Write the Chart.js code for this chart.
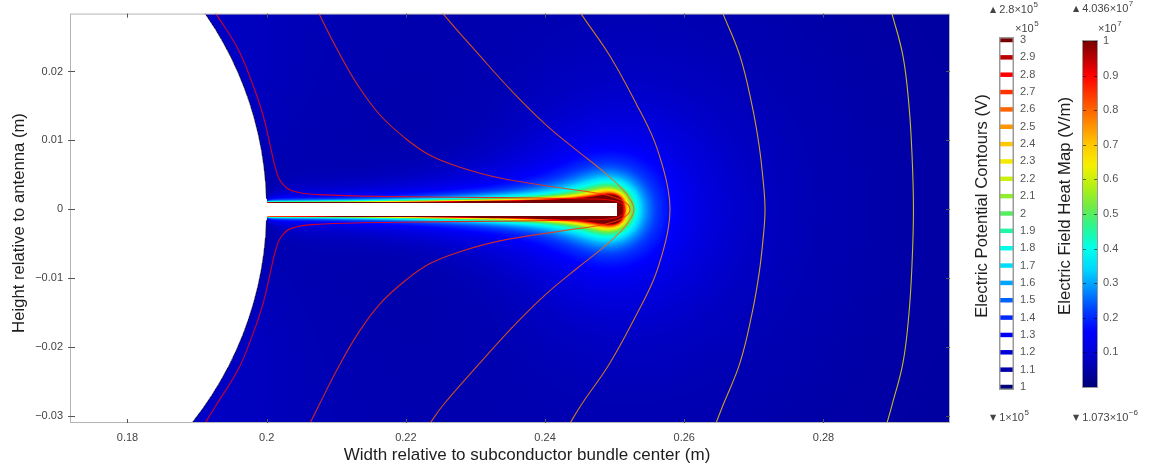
<!DOCTYPE html>
<html>
<head>
<meta charset="utf-8">
<title>Electric field around an antenna strand</title>
<script src="https://cdn.jsdelivr.net/npm/chart.js@4.4.1/dist/chart.umd.min.js"></script>
<style>
  html, body { margin: 0; padding: 0; background: #fff; }
  body { position: relative; width: 1153px; height: 469px; overflow: hidden; }
  canvas { position: absolute; top: 0; }
</style>
</head>
<body>
<canvas id="fieldPlot" width="960" height="469" style="left:0"></canvas>
<canvas id="potentialBar" width="90" height="469" style="left:960px"></canvas>
<canvas id="fieldBar" width="103" height="469" style="left:1050px"></canvas>
<script>
const FONT = '"Liberation Sans", Arial, sans-serif';
Chart.defaults.font.family = FONT;
Chart.defaults.color = '#444';
Chart.defaults.animation = false;

// ---------- axes (m) ----------
const xTicks = [0.18, 0.2, 0.22, 0.24, 0.26, 0.28];
const yTicks = [-0.03, -0.02, -0.01, 0, 0.01, 0.02];
const xRange = [0.17174, 0.29818];
const yRange = [-0.03096, 0.02839];

// ---------- potential legend (x1e5 V) ----------
const potentialLevels = [1.0, 1.1, 1.2, 1.3, 1.4, 1.5, 1.6, 1.7, 1.8, 1.9, 2.0,
                         2.1, 2.2, 2.3, 2.4, 2.5, 2.6, 2.7, 2.8, 2.9, 3.0];
const potentialRange = [0.9885, 3.0115];

// ---------- field legend (x1e7 V/m) ----------
const fieldTicks = [0.1, 0.2, 0.3, 0.4, 0.5, 0.6, 0.7, 0.8, 0.9, 1.0];
const fieldRange = [0, 1];

// ---------- equipotentials drawn in the plot (x1e5 V) ----------
const contourLevels = [2.8, 2.7, 2.6, 2.5, 2.4, 2.3];
// upper half of each line (y >= 0), from the top edge down to the axis
const c28x = [0.19114, 0.19272, 0.19588, 0.19789, 0.19947, 0.20047, 0.20119, 0.20205, 0.20364, 0.20766, 0.21915, 0.23352, 0.24358, 0.24861, 0.25076, 0.25148];
const c28y = [0.031, 0.02839, 0.02325, 0.0184, 0.01369, 0.00942, 0.00628, 0.00399, 0.00271, 0.00214, 0.00185, 0.00171, 0.00157, 0.00143, 0.001, 0];
const c27x = [0.20622, 0.20751, 0.2101, 0.21312, 0.21628, 0.21997, 0.22346, 0.22777, 0.23352, 0.24214, 0.24861, 0.25134, 0.2522];
const c27y = [0.031, 0.02839, 0.02325, 0.01797, 0.01369, 0.01027, 0.00785, 0.00613, 0.00456, 0.00314, 0.00214, 0.00114, 0];
const c26x = [0.22346, 0.22533, 0.23065, 0.23539, 0.24013, 0.24473, 0.24846, 0.25105, 0.25234, 0.25277];
const c26y = [0.031, 0.02839, 0.02225, 0.01698, 0.01227, 0.00842, 0.00542, 0.003, 0.00128, 0];
const c25x = [0.24358, 0.24516, 0.24932, 0.2532, 0.2555, 0.2568, 0.25766, 0.25795];
const c25y = [0.031, 0.02839, 0.02225, 0.01512, 0.01041, 0.00656, 0.0030, 0];
const c24x = [0.26455, 0.26556, 0.268, 0.26973, 0.27073, 0.27131, 0.2716];
const c24y = [0.031, 0.02839, 0.02225, 0.01512, 0.00942, 0.00442, 0];
const c23x = [0.28912, 0.28984, 0.29142, 0.29228, 0.29272, 0.29293];
const c23y = [0.031, 0.02839, 0.02225, 0.01512, 0.00799, 0];
const contourHalves = [[c28x, c28y], [c27x, c27y], [c26x, c26y], [c25x, c25y], [c24x, c24y], [c23x, c23y]];

// ---------- conductor geometry (m) ----------
const subconductor = { cx: 0.15, cy: 0, r: 0.05 };
const strand = { x0: 0.2, x1: 0.2503, half: 0.001 };

// ---------- charge model used to shade |E| (x1e7 V/m) ----------
const subCharge = 0.0044;                        // subconductor line charge
const tipCharge = 0.0006, tipX = 0.2495;         // far-reaching charge at the strand tip
const strandDensity = { base: 1.0e-4, rise: 3.6e-4, tip: 5.0e-4, tipLength: 0.004 };
const STRAND_SEGMENTS = 100;

// ---------- rainbow colour table ----------
const rainbowPos = [0, 0.10, 0.16, 0.22, 0.28, 0.34, 0.40, 0.46, 0.52, 0.58, 0.64, 0.70, 0.76, 0.84, 0.90, 1.0];
const rainbowRGB = [[0,0,120],[0,0,215],[0,0,255],[0,60,255],[0,140,255],[0,215,255],[0,255,235],
                    [40,245,150],[110,235,70],[180,240,20],[245,240,0],[255,200,0],[255,140,0],
                    [255,60,0],[255,0,0],[120,0,0]];

function rainbow(v) {
  v = Math.max(0, Math.min(1, v));
  for (let i = 1; i < rainbowPos.length; i++) {
    if (v <= rainbowPos[i]) {
      const t = (v - rainbowPos[i - 1]) / (rainbowPos[i] - rainbowPos[i - 1]);
      const a = rainbowRGB[i - 1], b = rainbowRGB[i];
      return [a[0] + (b[0] - a[0]) * t, a[1] + (b[1] - a[1]) * t, a[2] + (b[2] - a[2]) * t];
    }
  }
  return rainbowRGB[rainbowRGB.length - 1];
}
const rgbStr = (c, a = 1) => `rgba(${Math.round(c[0])},${Math.round(c[1])},${Math.round(c[2])},${a})`;
const levelColor = lv => rainbow((lv - potentialLevels[0]) / (potentialLevels[potentialLevels.length - 1] - potentialLevels[0]));

// lookup table for fast shading
const LUT_N = 1024;
const lut = new Uint8ClampedArray(LUT_N * 3);
for (let i = 0; i < LUT_N; i++) {
  const c = rainbow(i / (LUT_N - 1));
  lut[i * 3] = c[0]; lut[i * 3 + 1] = c[1]; lut[i * 3 + 2] = c[2];
}

// strand surface charge: two rows of uniformly charged segments just inside its faces
const segEdges = new Float64Array(STRAND_SEGMENTS + 1);
const segLambda = new Float64Array(STRAND_SEGMENTS);
const chargeRows = [strand.half * 0.9, -strand.half * 0.9];
(function () {
  const len = strand.x1 - strand.x0, ds = len / STRAND_SEGMENTS;
  for (let k = 0; k <= STRAND_SEGMENTS; k++) segEdges[k] = strand.x0 + k * ds;
  for (let k = 0; k < STRAND_SEGMENTS; k++) {
    const t = (k + 0.5) / STRAND_SEGMENTS;
    const lam = strandDensity.base + strandDensity.rise * t * t +
                strandDensity.tip * Math.exp(-(1 - t) * len / strandDensity.tipLength);
    segLambda[k] = 0.5 * lam;
  }
})();

function fieldAt(x, y) {
  let dx = x - subconductor.cx, dy = y - subconductor.cy;
  let r2 = dx * dx + dy * dy;
  let ex = subCharge * dx / r2, ey = subCharge * dy / r2;
  dx = x - tipX; r2 = dx * dx + y * y;
  ex += tipCharge * dx / r2; ey += tipCharge * y / r2;
  for (let row = 0; row < chargeRows.length; row++) {
    const h = y - chargeRows[row];
    const d2 = Math.max(h * h, 1e-14);
    let u = segEdges[0] - x;
    let ri = 1 / Math.sqrt(u * u + d2), ur = u * ri;
    let sx = 0, sy = 0;
    for (let k = 0; k < STRAND_SEGMENTS; k++) {
      const u2 = segEdges[k + 1] - x;
      const ri2 = 1 / Math.sqrt(u2 * u2 + d2), ur2 = u2 * ri2;
      sx += segLambda[k] * (ri2 - ri);
      sy += segLambda[k] * (ur2 - ur);
      ri = ri2; ur = ur2;
    }
    ex += sx; ey += sy * h / d2;
  }
  return Math.sqrt(ex * ex + ey * ey);
}

function insideConductor(x, y) {
  const dx = x - subconductor.cx, dy = y - subconductor.cy;
  if (dx * dx + dy * dy <= subconductor.r * subconductor.r) return true;
  return x >= strand.x0 && x <= strand.x1 && Math.abs(y) <= strand.half;
}

// ---------- text helpers ----------
function sciLabel(ctx, x, y, arrow, base, exp) {
  ctx.save();
  ctx.fillStyle = '#444';
  ctx.textBaseline = 'middle';
  ctx.textAlign = 'left';
  let cx = x;
  if (arrow) {
    ctx.font = '8px "DejaVu Sans", sans-serif';
    ctx.fillText(arrow, cx, y);
    cx += ctx.measureText(arrow).width + 3;
  }
  ctx.font = `11px ${FONT}`;
  ctx.fillText(base, cx, y);
  cx += ctx.measureText(base).width;
  ctx.font = `8px ${FONT}`;
  ctx.fillText(exp, cx + 0.5, y - 5);
  ctx.restore();
}

function verticalTitle(ctx, text, cx, cy, size) {
  ctx.save();
  ctx.translate(cx, cy);
  ctx.rotate(-Math.PI / 2);
  ctx.font = `${size}px ${FONT}`;
  ctx.fillStyle = '#1e1e1e';
  ctx.textAlign = 'center';
  ctx.textBaseline = 'middle';
  ctx.fillText(text, 0, 0);
  ctx.restore();
}

const fmtX = v => String(+v.toFixed(2));
const fmtY = v => (v === 0 ? '0' : (v < 0 ? '\u2212' + String(+(-v).toFixed(2)) : String(+v.toFixed(2))));

// ---------- main plot ----------
let fieldImage = null;
const fieldMapPlugin = {
  id: 'fieldMap',
  beforeDatasetsDraw(chart) {
    const { ctx, chartArea: a } = chart;
    const xs = chart.scales.x, ys = chart.scales.y;
    const left = Math.round(a.left), top = Math.round(a.top);
    const w = Math.round(a.right) - left, h = Math.round(a.bottom) - top;
    if (!fieldImage) {
      fieldImage = ctx.createImageData(w, h);
      const d = fieldImage.data;
      for (let j = 0; j < h; j++) {
        const y = ys.getValueForPixel(top + j + 0.5);
        for (let i = 0; i < w; i++) {
          const x = xs.getValueForPixel(left + i + 0.5);
          const p = (j * w + i) * 4;
          if (insideConductor(x, y)) {
            d[p] = d[p + 1] = d[p + 2] = 255;
          } else {
            const v = (fieldAt(x, y) - fieldRange[0]) / (fieldRange[1] - fieldRange[0]);
            const k = Math.max(0, Math.min(LUT_N - 1, Math.round(v * (LUT_N - 1)))) * 3;
            d[p] = lut[k]; d[p + 1] = lut[k + 1]; d[p + 2] = lut[k + 2];
          }
          d[p + 3] = 255;
        }
      }
    }
    ctx.putImageData(fieldImage, left, top);

    // subconductor outline
    ctx.save();
    ctx.beginPath();
    ctx.rect(a.left, a.top, a.right - a.left, a.bottom - a.top);
    ctx.clip();
    const cx = xs.getPixelForValue(subconductor.cx), cy = ys.getPixelForValue(subconductor.cy);
    const rx = xs.getPixelForValue(subconductor.cx + subconductor.r) - cx;
    const ry = cy - ys.getPixelForValue(subconductor.cy + subconductor.r);
    ctx.beginPath();
    ctx.ellipse(cx, cy, rx, ry, 0, 0.03, 2 * Math.PI - 0.03);
    ctx.strokeStyle = 'rgba(25,25,45,0.75)';
    ctx.lineWidth = 1;
    ctx.stroke();
    ctx.restore();
  }
};

const plotFramePlugin = {
  id: 'plotFrame',
  afterDraw(chart) {
    const { ctx, chartArea: a } = chart;
    const xs = chart.scales.x, ys = chart.scales.y;
    ctx.save();
    ctx.strokeStyle = '#b4b4b4';
    ctx.lineWidth = 1;
    ctx.strokeRect(a.left + 0.5, a.top + 0.5, a.right - a.left - 1, a.bottom - a.top - 1);
    ctx.strokeStyle = '#555';
    ctx.beginPath();
    xTicks.forEach(v => {
      const px = Math.round(xs.getPixelForValue(v)) + 0.5;
      ctx.moveTo(px, a.top); ctx.lineTo(px, a.top + 4);
      ctx.moveTo(px, a.bottom); ctx.lineTo(px, a.bottom - 4);
    });
    yTicks.forEach(v => {
      const py = Math.round(ys.getPixelForValue(v)) + 0.5;
      ctx.moveTo(a.left - 2, py); ctx.lineTo(a.left + 5, py);
      ctx.moveTo(a.right, py); ctx.lineTo(a.right - 4, py);
    });
    ctx.stroke();

    ctx.fillStyle = '#1e1e1e';
    ctx.font = `17px ${FONT}`;
    ctx.textAlign = 'center';
    ctx.textBaseline = 'middle';
    ctx.fillText('Width relative to subconductor bundle center (m)', 527, 455);
    ctx.restore();
    verticalTitle(ctx, 'Height relative to antenna (m)', 19, 223, 16.7);
  }
};

const contourDatasets = contourLevels.map((lv, i) => {
  const [hx, hy] = contourHalves[i];
  const pts = [];
  for (let k = 0; k < hx.length; k++) pts.push({ x: hx[k], y: -hy[k] });
  for (let k = hx.length - 2; k >= 0; k--) pts.push({ x: hx[k], y: hy[k] });
  return {
    label: String(lv),
    data: pts,
    showLine: true,
    pointRadius: 0,
    borderWidth: 1.1,
    borderColor: rgbStr(levelColor(lv), 0.8),
    tension: 0.4,
    clip: 0
  };
});

new Chart(document.getElementById('fieldPlot'), {
  type: 'scatter',
  data: { datasets: contourDatasets },
  options: {
    responsive: false,
    animation: false,
    events: [],
    layout: { padding: { top: 7, right: 10, left: 0, bottom: 0 } },
    plugins: { legend: { display: false }, tooltip: { enabled: false } },
    scales: {
      x: {
        type: 'linear', min: xRange[0], max: xRange[1],
        grid: { display: false, drawTicks: false }, border: { display: false },
        afterBuildTicks: s => { s.ticks = xTicks.map(v => ({ value: v })); },
        afterFit: s => { s.height = 46; },
        ticks: { padding: 8, maxRotation: 0, autoSkip: false, font: { size: 11 }, color: '#444', callback: v => fmtX(v) }
      },
      y: {
        type: 'linear', min: yRange[0], max: yRange[1],
        grid: { display: false, drawTicks: false }, border: { display: false },
        afterBuildTicks: s => { s.ticks = yTicks.map(v => ({ value: v })); },
        afterFit: s => { s.width = 70; },
        ticks: { padding: 7, autoSkip: false, font: { size: 11 }, color: '#444', callback: v => fmtY(v) }
      }
    }
  },
  plugins: [fieldMapPlugin, plotFramePlugin]
});

// ---------- potential contour legend ----------
const potentialFramePlugin = {
  id: 'potentialFrame',
  beforeDatasetsDraw(chart) {
    const { ctx, chartArea: a } = chart;
    ctx.save();
    ctx.fillStyle = '#fff';
    ctx.fillRect(a.left, a.top, a.right - a.left, a.bottom - a.top);
    ctx.restore();
  },
  afterDraw(chart) {
    const { ctx, chartArea: a } = chart;
    ctx.save();
    ctx.strokeStyle = '#9a9a9a';
    ctx.lineWidth = 1.5;
    ctx.strokeRect(a.left - 0.25, a.top - 0.25, a.right - a.left + 0.5, a.bottom - a.top + 0.5);
    ctx.restore();
    sciLabel(ctx, 30, 10, '\u25B2', '2.8\u00D710', '5');
    sciLabel(ctx, 55, 29, '', '\u00D710', '5');
    sciLabel(ctx, 30, 418, '\u25BC', '1\u00D710', '5');
    verticalTitle(ctx, 'Electric Potential Contours (V)', 22, 206, 16.7);
  }
};

new Chart(document.getElementById('potentialBar'), {
  type: 'bar',
  data: {
    labels: [''],
    datasets: potentialLevels.map(lv => ({
      label: String(lv),
      data: [[lv - 0.011, lv + 0.011]],
      backgroundColor: rgbStr(levelColor(lv)),
      grouped: false,
      barPercentage: 1,
      categoryPercentage: 1,
      borderWidth: 0
    }))
  },
  options: {
    responsive: false,
    animation: false,
    events: [],
    layout: { padding: { left: 40, top: 38, bottom: 80, right: 0 } },
    plugins: { legend: { display: false }, tooltip: { enabled: false } },
    scales: {
      x: { display: false },
      y: {
        position: 'right', min: potentialRange[0], max: potentialRange[1],
        grid: { display: false, drawTicks: false }, border: { display: false },
        afterBuildTicks: s => { s.ticks = potentialLevels.map(v => ({ value: v })); },
        afterFit: s => { s.width = 37; },
        ticks: { padding: 7, autoSkip: false, font: { size: 11 }, color: '#555', callback: v => String(+v.toFixed(1)) }
      }
    }
  },
  plugins: [potentialFramePlugin]
});

// ---------- field colour legend ----------
const fieldFramePlugin = {
  id: 'fieldFrame',
  afterDraw(chart) {
    const { ctx, chartArea: a } = chart;
    const ys = chart.scales.y;
    ctx.save();
    ctx.strokeStyle = 'rgba(0,0,0,0.55)';
    ctx.lineWidth = 1;
    ctx.beginPath();
    fieldTicks.forEach(v => {
      const py = Math.round(ys.getPixelForValue(v)) + 0.5;
      ctx.moveTo(a.left, py); ctx.lineTo(a.left + 3, py);
      ctx.moveTo(a.right, py); ctx.lineTo(a.right - 3, py);
    });
    ctx.stroke();
    ctx.strokeStyle = '#9a9a9a';
    ctx.lineWidth = 1;
    ctx.strokeRect(a.left - 0.5, a.top - 0.5, a.right - a.left + 1, a.bottom - a.top + 1);
    ctx.restore();
    sciLabel(ctx, 23, 9, '\u25B2', '4.036\u00D710', '7');
    sciLabel(ctx, 48, 29, '', '\u00D710', '7');
    sciLabel(ctx, 23, 418, '\u25BC', '1.073\u00D710', '\u22126');
    verticalTitle(ctx, 'Electric Field Heat Map (V/m)', 15, 206, 16.7);
  }
};

function fieldGradient(c) {
  const chart = c.chart, a = chart.chartArea;
  if (!a || !isFinite(a.top) || !isFinite(a.bottom) || a.bottom <= a.top) return rgbStr(rainbowRGB[2]);
  const ys = chart.scales.y;
  const y0 = ys.getPixelForValue(fieldRange[0]), y1 = ys.getPixelForValue(fieldRange[1]);
  if (!isFinite(y0) || !isFinite(y1)) return rgbStr(rainbowRGB[2]);
  const g = chart.ctx.createLinearGradient(0, y0, 0, y1);
  rainbowPos.forEach((p, i) => g.addColorStop(p, rgbStr(rainbowRGB[i])));
  return g;
}

const fieldBarChart = new Chart(document.getElementById('fieldBar'), {
  type: 'bar',
  data: {
    labels: [''],
    datasets: [{
      label: '|E|',
      data: [[fieldRange[0], fieldRange[1]]],
      backgroundColor: fieldGradient,
      barPercentage: 1,
      categoryPercentage: 1,
      borderWidth: 0
    }]
  },
  options: {
    responsive: false,
    animation: false,
    events: [],
    layout: { padding: { left: 33, top: 41, bottom: 82, right: 0 } },
    plugins: { legend: { display: false }, tooltip: { enabled: false } },
    scales: {
      x: { display: false },
      y: {
        position: 'right', min: fieldRange[0], max: fieldRange[1],
        grid: { display: false, drawTicks: false }, border: { display: false },
        afterBuildTicks: s => { s.ticks = fieldTicks.map(v => ({ value: v })); },
        afterFit: s => { s.width = 56; },
        ticks: { padding: 6, autoSkip: false, font: { size: 11 }, color: '#555', callback: v => String(+v.toFixed(1)) }
      }
    }
  },
  plugins: [fieldFramePlugin]
});
fieldBarChart.update();
</script>
</body>
</html>
